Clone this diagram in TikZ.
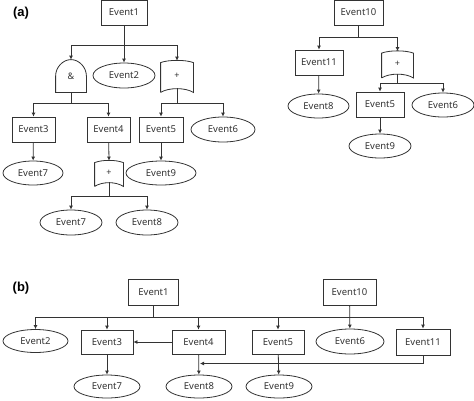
\documentclass[tikz,border=0pt]{standalone}
\usepackage{fontspec}
\setmainfont{Noto Sans}
\setsansfont{Liberation Sans}
\usetikzlibrary{shapes.geometric,arrows.meta}

\tikzstyle{box}=[rectangle, draw, minimum width=46pt, minimum height=25pt, inner sep=2pt]
\tikzstyle{wbox}=[box, minimum width=52pt, minimum height=24pt]
\tikzstyle{leaf}=[ellipse, draw, minimum width=62pt, minimum height=25pt, inner sep=0pt]
\tikzstyle{wleaf}=[leaf, minimum width=66pt, minimum height=23pt]
\tikzstyle{gate}=[inner sep=0pt, font=\fontsize{9}{10}\selectfont]
\tikzstyle{arr}=[-{Latex[length=4pt,width=4pt]}]
\tikzstyle{tag}=[font=\sffamily\bfseries\fontsize{13}{13}\selectfont, text=black]

% gate outlines drawn round a plain node
\newcommand{\andgate}[1]{\draw (#1.south west) -- (#1.west) .. controls +(0pt,8.5pt) and +(-8.3pt,0pt) .. (#1.north) .. controls +(8.3pt,0pt) and +(0pt,8.5pt) .. (#1.east) -- (#1.south east) -- cycle;}
\newcommand{\orgate}[1]{\draw (#1.south west) -- ([yshift=-3pt]#1.north west) .. controls ([xshift=8pt]#1.north west) and ([xshift=-8pt]#1.north east) .. ([yshift=-3pt]#1.north east) -- (#1.south east) .. controls ([xshift=-8pt,yshift=5pt]#1.south east) and ([xshift=8pt,yshift=5pt]#1.south west) .. (#1.south west);}

\begin{document}
\begin{tikzpicture}[x=1pt, y=-1pt, line width=0.8pt, draw=black!80, text=black!80, font=\fontsize{9.5}{10}\selectfont]
    \useasboundingbox (0,0) rectangle (474,400);

    % (a), left tree
    \node[tag] (ta) at (21,13) {(a)};
    \node[box] (e1) at (124,12.5) {Event1};
    \node[gate, minimum width=30pt, minimum height=32pt] (and1) at (71,76) {\&};
    \node[leaf] (e2) at (124,75.5) {Event2};
    \node[gate, minimum width=32pt, minimum height=32pt] (or1) at (177,76) {+};
    \node[box, minimum width=43pt] (e3) at (33.5,129.5) {Event3};
    \node[box, minimum width=43pt] (e4) at (108.5,129.5) {Event4};
    \node[box, minimum width=44pt] (e5) at (161,129.5) {Event5};
    \node[leaf, minimum width=64pt] (e6) at (223,129.5) {Event6};
    \node[leaf, minimum width=60pt, minimum height=24pt] (e7) at (33,173) {Event7};
    \node[gate, minimum width=28pt, minimum height=26pt] (or2) at (109,173) {+};
    \node[leaf, minimum width=70pt, minimum height=24pt] (e9) at (161,173) {Event9};
    \node[leaf] (e7b) at (71,222.5) {Event7};
    \node[leaf] (e8) at (147,222.5) {Event8};
    \andgate{and1}
    \orgate{or1}
    \orgate{or2}

    \draw[arr] (e1) -- (e2);
    \draw[arr] (e1.south) -- +(0,20) -| (and1.north);
    \draw[arr] (e1.south) -- +(0,20) -| ([yshift=-1pt]or1.north);
    \draw[arr] (and1.south) -- +(0,11) -| (e3.north);
    \draw[arr] (and1.south) -- +(0,11) -| (e4.north);
    \draw[arr] ([yshift=4pt]or1.south) -- +(0,15) -| (e5.north);
    \draw[arr] ([yshift=4pt]or1.south) -- +(0,15) -| (e6.north);
    \draw[arr] (e3) -- (e7);
    \draw[arr] (e4) -- ([yshift=-1pt]or2.north);
    \draw[arr] (e5) -- (e9);
    \draw[arr] ([yshift=4pt]or2.south) -- +(0,14) -| (e7b.north);
    \draw[arr] ([yshift=4pt]or2.south) -- +(0,14) -| (e8.north);

    % (a), right tree
    \node[box, minimum width=49pt] (e10) at (358.5,12.5) {Event10};
    \node[box, minimum width=48pt] (e11) at (319,62.5) {Event11};
    \node[gate, minimum width=31pt, minimum height=27pt] (or3) at (397.5,64) {+};
    \node[leaf, minimum width=61pt, minimum height=24pt] (e8b) at (318.5,106) {Event8};
    \node[box, minimum width=48pt] (e5b) at (380,104.5) {Event5};
    \node[leaf, minimum height=24pt] (e6b) at (443,105) {Event6};
    \node[leaf, minimum height=24pt] (e9b) at (380,146) {Event9};
    \orgate{or3}

    \draw[arr] (e10.south) -- +(0,12) -| (e11.north);
    \draw[arr] (e10.south) -- +(0,12) -| ([yshift=-1pt]or3.north);
    \draw[arr] (e11) -- (e8b);
    \draw[arr] ([yshift=4pt]or3.south) -- +(0,9.5) -| (e5b.north);
    \draw[arr] ([yshift=4pt]or3.south) -- +(0,9.5) -| (e6b.north);
    \draw[arr] (e5b) -- (e9b);

    % (b)
    \node[tag] (tb) at (21,288) {(b)};
    \node[wbox, minimum width=50pt, minimum height=26pt] (b1) at (153.5,292) {Event1};
    \node[wbox, minimum width=53pt, minimum height=26pt] (b10) at (349.5,292) {Event10};
    \node[wleaf, minimum width=65pt] (b2) at (35.5,341) {Event2};
    \node[wbox] (b3) at (107,342) {Event3};
    \node[wbox, minimum width=53pt] (b4) at (198.5,342) {Event4};
    \node[wbox] (b5) at (278,342) {Event5};
    \node[wleaf, minimum width=68pt, minimum height=25pt] (b6) at (350,341.5) {Event6};
    \node[wbox, minimum width=54pt, minimum height=26pt] (b11) at (423,342) {Event11};
    \node[wleaf] (b7) at (107,386.5) {Event7};
    \node[wleaf] (b8) at (199,386.5) {Event8};
    \node[wleaf] (b9) at (279,386.5) {Event9};

    \draw[arr] (b1.south) -- +(0,12) -| (b2.north);
    \draw[arr] (b1.south) -- +(0,12) -| (b3.north);
    \draw[arr] (b1.south) -- +(0,12) -| (b4.north);
    \draw[arr] (b1.south) -- +(0,12) -| (b5.north);
    \draw[arr] (b1.south) -- +(0,12) -| (b11.north);
    \draw[arr] (b10) -- (b6);
    \draw[arr] (b4) -- (b3);
    \draw[arr] (b3) -- (b7);
    \draw[arr] (b4) -- (b8);
    \draw[arr] (b5) -- (b9);
    \coordinate (m8) at (200,363.5);
    \draw[arr] (b11.south) |- (m8);
\end{tikzpicture}
\end{document}
